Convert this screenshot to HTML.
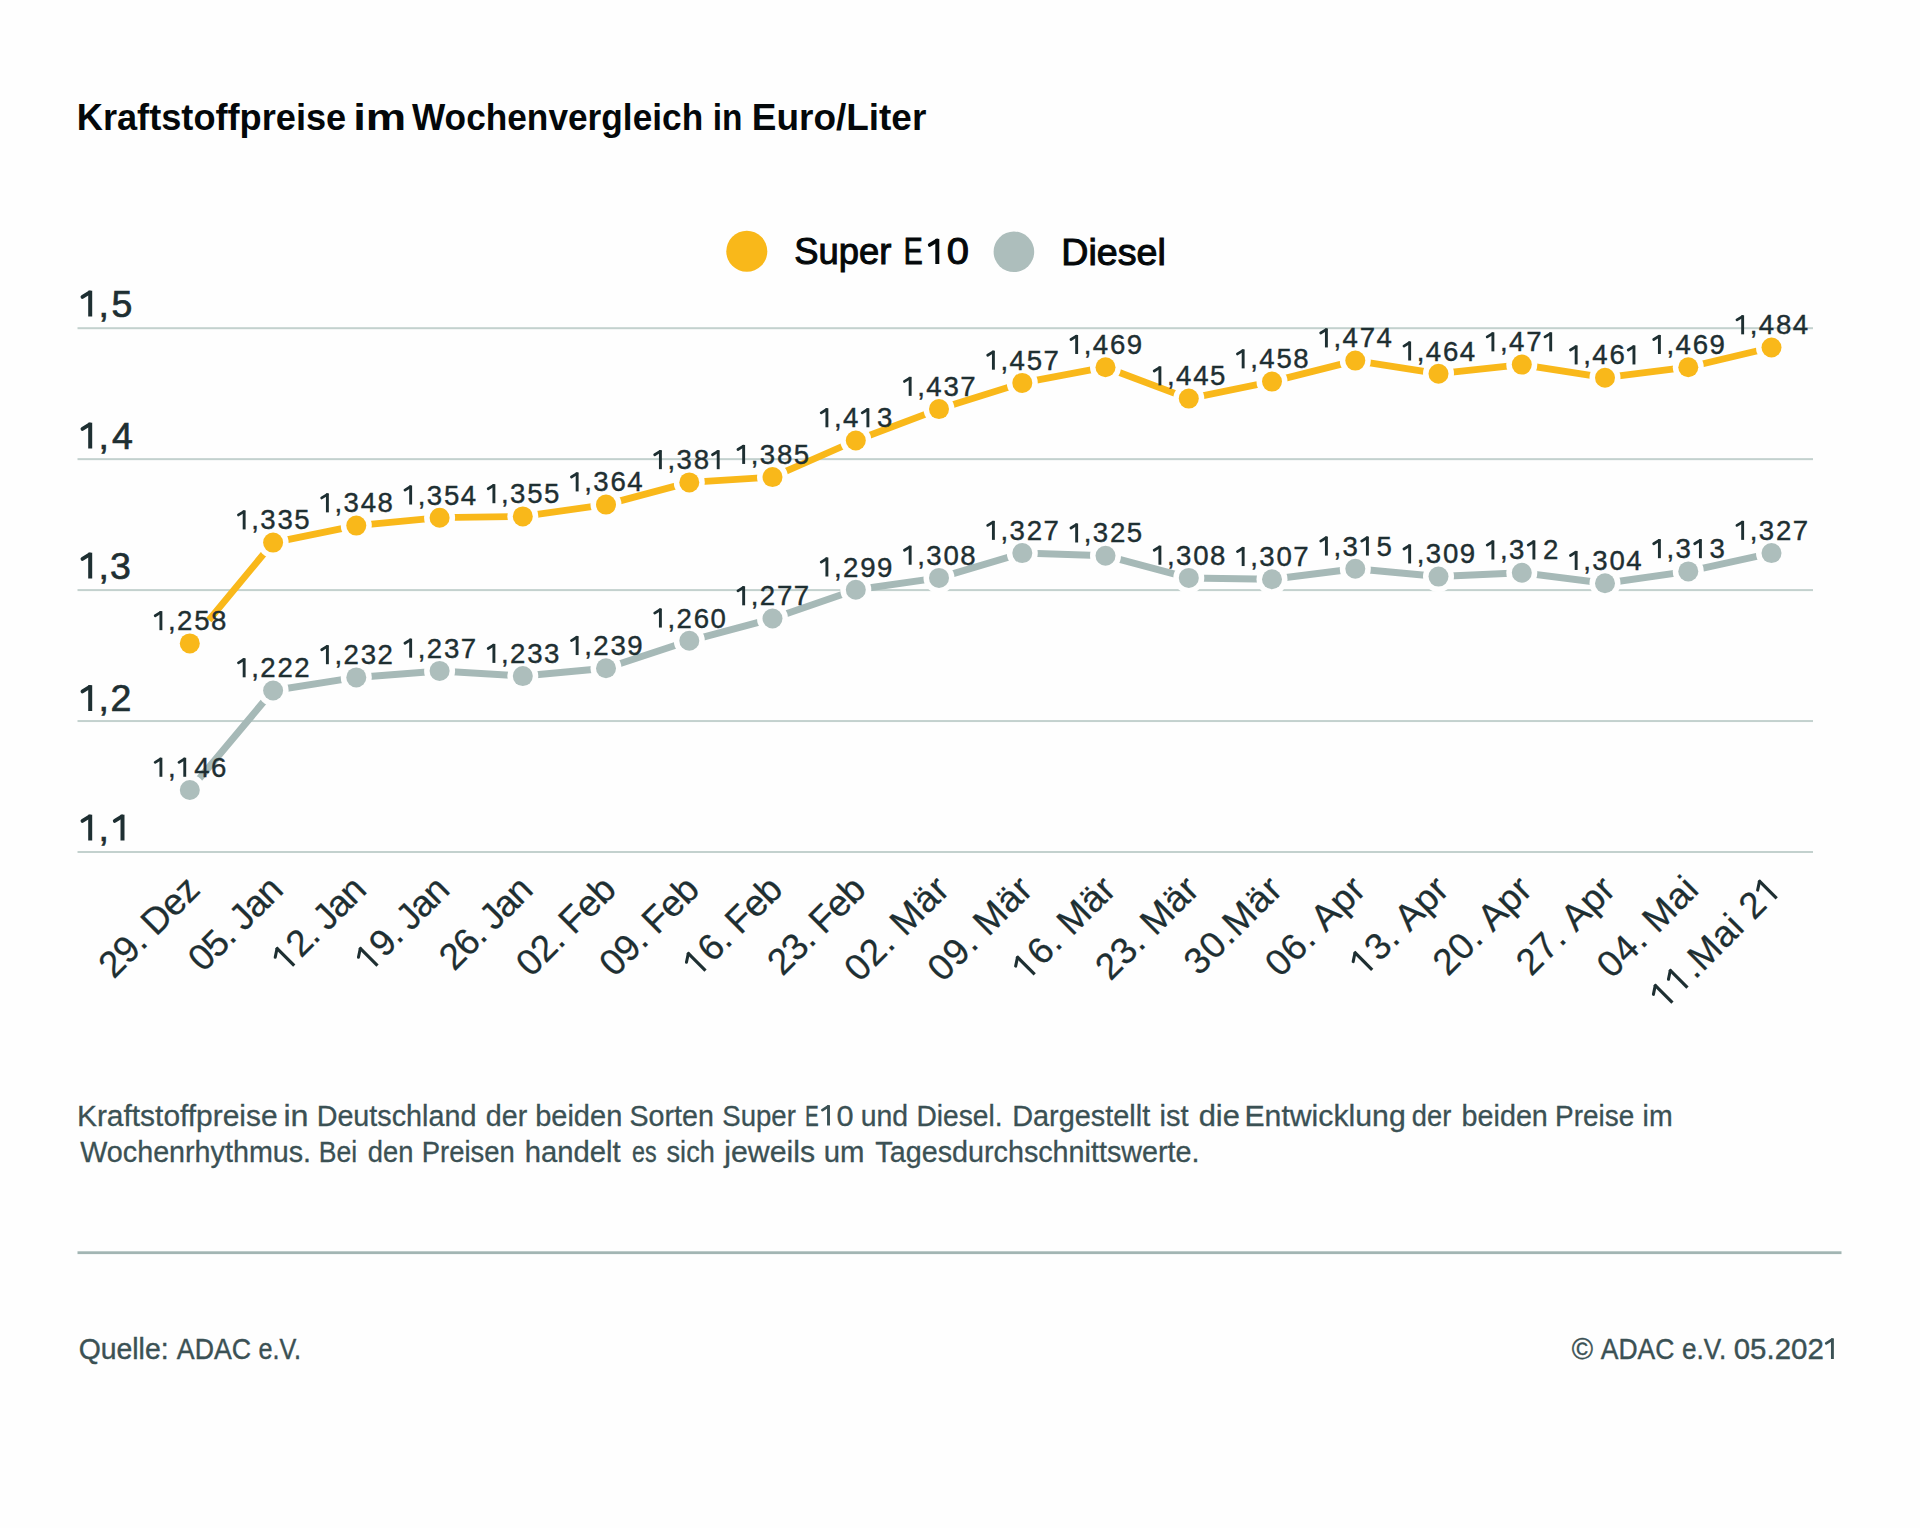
<!DOCTYPE html><html><head><meta charset="utf-8"><title>Kraftstoffpreise</title><style>
html,body{margin:0;padding:0;background:#fefefe;width:1920px;height:1528px;overflow:hidden}
svg{display:block}
text{font-family:"Liberation Sans", sans-serif}
</style></head><body>
<svg width="1920" height="1528" viewBox="0 0 1920 1528">
<rect width="1920" height="1528" fill="#fefefe"/>
<text x="76.78" y="129.50" font-size="37.5" font-weight="bold" fill="#04080a" textLength="269.46" lengthAdjust="spacingAndGlyphs">Kraftstoffpreise</text>
<text x="353.23" y="129.50" font-size="37.5" font-weight="bold" fill="#04080a" textLength="52.99" lengthAdjust="spacingAndGlyphs">im</text>
<text x="411.97" y="129.50" font-size="37.5" font-weight="bold" fill="#04080a" textLength="291.22" lengthAdjust="spacingAndGlyphs">Wochenvergleich</text>
<text x="712.67" y="129.50" font-size="37.5" font-weight="bold" fill="#04080a" textLength="29.71" lengthAdjust="spacingAndGlyphs">in</text>
<text x="751.83" y="129.50" font-size="37.5" font-weight="bold" fill="#04080a" textLength="174.43" lengthAdjust="spacingAndGlyphs">Euro/Liter</text>
<circle cx="746.8" cy="251.3" r="20.5" fill="#f9b81a"/>
<text x="794.35" y="264.00" font-size="36.5" fill="#04080a" stroke="#04080a" stroke-width="1.0" textLength="97.06" lengthAdjust="spacingAndGlyphs">Super</text>
<text x="903.67" y="264.00" font-size="36.5" fill="#04080a" stroke="#04080a" stroke-width="1.0" textLength="18.95" lengthAdjust="spacingAndGlyphs">E</text>
<path d="M929.77,244.91 L936.90,240.57" fill="none" stroke="#04080a" stroke-width="3.80" stroke-linecap="round"/>
<rect x="935.30" y="238.89" width="4.00" height="25.11" fill="#04080a"/>
<text x="946.84" y="264.00" font-size="36.5" fill="#04080a" stroke="#04080a" stroke-width="1.0" textLength="22.22" lengthAdjust="spacingAndGlyphs">0</text>
<circle cx="1013.9" cy="251.8" r="20.3" fill="#adbebc"/>
<text x="1061.32" y="264.50" font-size="36.5" fill="#04080a" stroke="#04080a" stroke-width="1.0" textLength="104.50" lengthAdjust="spacingAndGlyphs">Diesel</text>
<rect x="77.5" y="327.20" width="1735.5" height="2" fill="#c3d1ce"/>
<rect x="77.5" y="458.15" width="1735.5" height="2" fill="#c3d1ce"/>
<rect x="77.5" y="589.10" width="1735.5" height="2" fill="#c3d1ce"/>
<rect x="77.5" y="720.05" width="1735.5" height="2" fill="#c3d1ce"/>
<rect x="77.5" y="851.00" width="1735.5" height="2" fill="#c3d1ce"/>
<path d="M82.46,296.89 L89.80,292.38" fill="none" stroke="#1e2f32" stroke-width="3.80" stroke-linecap="round"/>
<rect x="88.20" y="290.70" width="4.00" height="25.80" fill="#1e2f32"/>
<text x="103.8" y="316.5" font-size="37.5" fill="#1e2f32" stroke="#1e2f32" stroke-width="0.7" text-anchor="middle">,</text>
<text x="121.9" y="316.5" font-size="37.5" fill="#1e2f32" stroke="#1e2f32" stroke-width="0.7" text-anchor="middle">5</text>
<path d="M82.46,428.89 L89.80,424.38" fill="none" stroke="#1e2f32" stroke-width="3.80" stroke-linecap="round"/>
<rect x="88.20" y="422.70" width="4.00" height="25.80" fill="#1e2f32"/>
<text x="103.8" y="448.5" font-size="37.5" fill="#1e2f32" stroke="#1e2f32" stroke-width="0.7" text-anchor="middle">,</text>
<text x="122.5" y="448.5" font-size="37.5" fill="#1e2f32" stroke="#1e2f32" stroke-width="0.7" text-anchor="middle">4</text>
<path d="M82.46,558.89 L89.80,554.38" fill="none" stroke="#1e2f32" stroke-width="3.80" stroke-linecap="round"/>
<rect x="88.20" y="552.70" width="4.00" height="25.80" fill="#1e2f32"/>
<text x="103.8" y="578.5" font-size="37.5" fill="#1e2f32" stroke="#1e2f32" stroke-width="0.7" text-anchor="middle">,</text>
<text x="120.5" y="578.5" font-size="37.5" fill="#1e2f32" stroke="#1e2f32" stroke-width="0.7" text-anchor="middle">3</text>
<path d="M82.46,691.39 L89.80,686.88" fill="none" stroke="#1e2f32" stroke-width="3.80" stroke-linecap="round"/>
<rect x="88.20" y="685.20" width="4.00" height="25.80" fill="#1e2f32"/>
<text x="103.8" y="711.0" font-size="37.5" fill="#1e2f32" stroke="#1e2f32" stroke-width="0.7" text-anchor="middle">,</text>
<text x="121.0" y="711.0" font-size="37.5" fill="#1e2f32" stroke="#1e2f32" stroke-width="0.7" text-anchor="middle">2</text>
<path d="M82.46,820.89 L89.80,816.38" fill="none" stroke="#1e2f32" stroke-width="3.80" stroke-linecap="round"/>
<rect x="88.20" y="814.70" width="4.00" height="25.80" fill="#1e2f32"/>
<text x="103.8" y="840.5" font-size="37.5" fill="#1e2f32" stroke="#1e2f32" stroke-width="0.7" text-anchor="middle">,</text>
<path d="M114.76,820.89 L122.10,816.38" fill="none" stroke="#1e2f32" stroke-width="3.80" stroke-linecap="round"/>
<rect x="120.50" y="814.70" width="4.00" height="25.80" fill="#1e2f32"/>
<polyline points="189.8,790.0 273.1,690.5 356.3,677.4 439.6,670.9 522.8,676.1 606.0,668.2 689.3,640.8 772.5,618.5 855.8,589.7 939.0,577.9 1022.3,553.1 1105.5,555.7 1188.8,577.9 1272.0,579.2 1355.3,568.8 1438.5,576.6 1521.8,572.7 1605.0,583.2 1688.3,571.4 1771.5,553.1" fill="none" stroke="#a6b9b7" stroke-width="7" stroke-linejoin="round"/>
<polyline points="208.9,620.2 273.1,542.6 356.3,525.6 439.6,517.7 522.8,516.4 606.0,504.6 689.3,482.4 772.5,477.1 855.8,440.5 939.0,409.1 1022.3,382.9 1105.5,367.2 1188.8,398.6 1272.0,381.6 1355.3,360.6 1438.5,373.7 1521.8,364.6 1605.0,377.7 1688.3,367.2 1771.5,347.5" fill="none" stroke="#f9b81a" stroke-width="6.8" stroke-linejoin="round"/>
<circle cx="189.8" cy="790.0" r="15.5" fill="#fefefe"/>
<circle cx="189.8" cy="790.0" r="10" fill="#adbebc"/>
<circle cx="273.1" cy="690.5" r="15.5" fill="#fefefe"/>
<circle cx="273.1" cy="690.5" r="10" fill="#adbebc"/>
<circle cx="356.3" cy="677.4" r="15.5" fill="#fefefe"/>
<circle cx="356.3" cy="677.4" r="10" fill="#adbebc"/>
<circle cx="439.6" cy="670.9" r="15.5" fill="#fefefe"/>
<circle cx="439.6" cy="670.9" r="10" fill="#adbebc"/>
<circle cx="522.8" cy="676.1" r="15.5" fill="#fefefe"/>
<circle cx="522.8" cy="676.1" r="10" fill="#adbebc"/>
<circle cx="606.0" cy="668.2" r="15.5" fill="#fefefe"/>
<circle cx="606.0" cy="668.2" r="10" fill="#adbebc"/>
<circle cx="689.3" cy="640.8" r="15.5" fill="#fefefe"/>
<circle cx="689.3" cy="640.8" r="10" fill="#adbebc"/>
<circle cx="772.5" cy="618.5" r="15.5" fill="#fefefe"/>
<circle cx="772.5" cy="618.5" r="10" fill="#adbebc"/>
<circle cx="855.8" cy="589.7" r="15.5" fill="#fefefe"/>
<circle cx="855.8" cy="589.7" r="10" fill="#adbebc"/>
<circle cx="939.0" cy="577.9" r="15.5" fill="#fefefe"/>
<circle cx="939.0" cy="577.9" r="10" fill="#adbebc"/>
<circle cx="1022.3" cy="553.1" r="15.5" fill="#fefefe"/>
<circle cx="1022.3" cy="553.1" r="10" fill="#adbebc"/>
<circle cx="1105.5" cy="555.7" r="15.5" fill="#fefefe"/>
<circle cx="1105.5" cy="555.7" r="10" fill="#adbebc"/>
<circle cx="1188.8" cy="577.9" r="15.5" fill="#fefefe"/>
<circle cx="1188.8" cy="577.9" r="10" fill="#adbebc"/>
<circle cx="1272.0" cy="579.2" r="15.5" fill="#fefefe"/>
<circle cx="1272.0" cy="579.2" r="10" fill="#adbebc"/>
<circle cx="1355.3" cy="568.8" r="15.5" fill="#fefefe"/>
<circle cx="1355.3" cy="568.8" r="10" fill="#adbebc"/>
<circle cx="1438.5" cy="576.6" r="15.5" fill="#fefefe"/>
<circle cx="1438.5" cy="576.6" r="10" fill="#adbebc"/>
<circle cx="1521.8" cy="572.7" r="15.5" fill="#fefefe"/>
<circle cx="1521.8" cy="572.7" r="10" fill="#adbebc"/>
<circle cx="1605.0" cy="583.2" r="15.5" fill="#fefefe"/>
<circle cx="1605.0" cy="583.2" r="10" fill="#adbebc"/>
<circle cx="1688.3" cy="571.4" r="15.5" fill="#fefefe"/>
<circle cx="1688.3" cy="571.4" r="10" fill="#adbebc"/>
<circle cx="1771.5" cy="553.1" r="15.5" fill="#fefefe"/>
<circle cx="1771.5" cy="553.1" r="10" fill="#adbebc"/>
<circle cx="189.8" cy="643.4" r="15.5" fill="#fefefe"/>
<circle cx="189.8" cy="643.4" r="10" fill="#f9b81a"/>
<circle cx="273.1" cy="542.6" r="15.5" fill="#fefefe"/>
<circle cx="273.1" cy="542.6" r="10" fill="#f9b81a"/>
<circle cx="356.3" cy="525.6" r="15.5" fill="#fefefe"/>
<circle cx="356.3" cy="525.6" r="10" fill="#f9b81a"/>
<circle cx="439.6" cy="517.7" r="15.5" fill="#fefefe"/>
<circle cx="439.6" cy="517.7" r="10" fill="#f9b81a"/>
<circle cx="522.8" cy="516.4" r="15.5" fill="#fefefe"/>
<circle cx="522.8" cy="516.4" r="10" fill="#f9b81a"/>
<circle cx="606.0" cy="504.6" r="15.5" fill="#fefefe"/>
<circle cx="606.0" cy="504.6" r="10" fill="#f9b81a"/>
<circle cx="689.3" cy="482.4" r="15.5" fill="#fefefe"/>
<circle cx="689.3" cy="482.4" r="10" fill="#f9b81a"/>
<circle cx="772.5" cy="477.1" r="15.5" fill="#fefefe"/>
<circle cx="772.5" cy="477.1" r="10" fill="#f9b81a"/>
<circle cx="855.8" cy="440.5" r="15.5" fill="#fefefe"/>
<circle cx="855.8" cy="440.5" r="10" fill="#f9b81a"/>
<circle cx="939.0" cy="409.1" r="15.5" fill="#fefefe"/>
<circle cx="939.0" cy="409.1" r="10" fill="#f9b81a"/>
<circle cx="1022.3" cy="382.9" r="15.5" fill="#fefefe"/>
<circle cx="1022.3" cy="382.9" r="10" fill="#f9b81a"/>
<circle cx="1105.5" cy="367.2" r="15.5" fill="#fefefe"/>
<circle cx="1105.5" cy="367.2" r="10" fill="#f9b81a"/>
<circle cx="1188.8" cy="398.6" r="15.5" fill="#fefefe"/>
<circle cx="1188.8" cy="398.6" r="10" fill="#f9b81a"/>
<circle cx="1272.0" cy="381.6" r="15.5" fill="#fefefe"/>
<circle cx="1272.0" cy="381.6" r="10" fill="#f9b81a"/>
<circle cx="1355.3" cy="360.6" r="15.5" fill="#fefefe"/>
<circle cx="1355.3" cy="360.6" r="10" fill="#f9b81a"/>
<circle cx="1438.5" cy="373.7" r="15.5" fill="#fefefe"/>
<circle cx="1438.5" cy="373.7" r="10" fill="#f9b81a"/>
<circle cx="1521.8" cy="364.6" r="15.5" fill="#fefefe"/>
<circle cx="1521.8" cy="364.6" r="10" fill="#f9b81a"/>
<circle cx="1605.0" cy="377.7" r="15.5" fill="#fefefe"/>
<circle cx="1605.0" cy="377.7" r="10" fill="#f9b81a"/>
<circle cx="1688.3" cy="367.2" r="15.5" fill="#fefefe"/>
<circle cx="1688.3" cy="367.2" r="10" fill="#f9b81a"/>
<circle cx="1771.5" cy="347.5" r="15.5" fill="#fefefe"/>
<circle cx="1771.5" cy="347.5" r="10" fill="#f9b81a"/>
<path d="M155.20,615.74 L160.61,612.40" fill="none" stroke="#1e2f32" stroke-width="2.75" stroke-linecap="round"/>
<rect x="159.45" y="611.18" width="2.90" height="19.00" fill="#1e2f32"/>
<text x="171.80" y="630.18" font-size="27.6" fill="#1e2f32" stroke="#1e2f32" stroke-width="0.4" text-anchor="middle">,</text>
<text x="184.75" y="630.18" font-size="27.6" fill="#1e2f32" stroke="#1e2f32" stroke-width="0.4" text-anchor="middle">2</text>
<text x="201.90" y="630.18" font-size="27.6" fill="#1e2f32" stroke="#1e2f32" stroke-width="0.4" text-anchor="middle">5</text>
<text x="218.70" y="630.18" font-size="27.6" fill="#1e2f32" stroke="#1e2f32" stroke-width="0.4" text-anchor="middle">8</text>
<path d="M238.45,514.95 L243.86,511.60" fill="none" stroke="#1e2f32" stroke-width="2.75" stroke-linecap="round"/>
<rect x="242.70" y="510.39" width="2.90" height="19.00" fill="#1e2f32"/>
<text x="255.05" y="529.39" font-size="27.6" fill="#1e2f32" stroke="#1e2f32" stroke-width="0.4" text-anchor="middle">,</text>
<text x="268.00" y="529.39" font-size="27.6" fill="#1e2f32" stroke="#1e2f32" stroke-width="0.4" text-anchor="middle">3</text>
<text x="285.15" y="529.39" font-size="27.6" fill="#1e2f32" stroke="#1e2f32" stroke-width="0.4" text-anchor="middle">3</text>
<text x="301.95" y="529.39" font-size="27.6" fill="#1e2f32" stroke="#1e2f32" stroke-width="0.4" text-anchor="middle">5</text>
<path d="M321.70,497.93 L327.11,494.59" fill="none" stroke="#1e2f32" stroke-width="2.75" stroke-linecap="round"/>
<rect x="325.95" y="493.37" width="2.90" height="19.00" fill="#1e2f32"/>
<text x="338.30" y="512.37" font-size="27.6" fill="#1e2f32" stroke="#1e2f32" stroke-width="0.4" text-anchor="middle">,</text>
<text x="351.25" y="512.37" font-size="27.6" fill="#1e2f32" stroke="#1e2f32" stroke-width="0.4" text-anchor="middle">3</text>
<text x="368.40" y="512.37" font-size="27.6" fill="#1e2f32" stroke="#1e2f32" stroke-width="0.4" text-anchor="middle">4</text>
<text x="385.20" y="512.37" font-size="27.6" fill="#1e2f32" stroke="#1e2f32" stroke-width="0.4" text-anchor="middle">8</text>
<path d="M404.95,490.07 L410.36,486.73" fill="none" stroke="#1e2f32" stroke-width="2.75" stroke-linecap="round"/>
<rect x="409.20" y="485.51" width="2.90" height="19.00" fill="#1e2f32"/>
<text x="421.55" y="504.51" font-size="27.6" fill="#1e2f32" stroke="#1e2f32" stroke-width="0.4" text-anchor="middle">,</text>
<text x="434.50" y="504.51" font-size="27.6" fill="#1e2f32" stroke="#1e2f32" stroke-width="0.4" text-anchor="middle">3</text>
<text x="451.65" y="504.51" font-size="27.6" fill="#1e2f32" stroke="#1e2f32" stroke-width="0.4" text-anchor="middle">5</text>
<text x="468.45" y="504.51" font-size="27.6" fill="#1e2f32" stroke="#1e2f32" stroke-width="0.4" text-anchor="middle">4</text>
<path d="M488.20,488.77 L493.61,485.42" fill="none" stroke="#1e2f32" stroke-width="2.75" stroke-linecap="round"/>
<rect x="492.45" y="484.21" width="2.90" height="19.00" fill="#1e2f32"/>
<text x="504.80" y="503.21" font-size="27.6" fill="#1e2f32" stroke="#1e2f32" stroke-width="0.4" text-anchor="middle">,</text>
<text x="517.75" y="503.21" font-size="27.6" fill="#1e2f32" stroke="#1e2f32" stroke-width="0.4" text-anchor="middle">3</text>
<text x="534.90" y="503.21" font-size="27.6" fill="#1e2f32" stroke="#1e2f32" stroke-width="0.4" text-anchor="middle">5</text>
<text x="551.70" y="503.21" font-size="27.6" fill="#1e2f32" stroke="#1e2f32" stroke-width="0.4" text-anchor="middle">5</text>
<path d="M571.45,476.98 L576.86,473.64" fill="none" stroke="#1e2f32" stroke-width="2.75" stroke-linecap="round"/>
<rect x="575.70" y="472.42" width="2.90" height="19.00" fill="#1e2f32"/>
<text x="588.05" y="491.42" font-size="27.6" fill="#1e2f32" stroke="#1e2f32" stroke-width="0.4" text-anchor="middle">,</text>
<text x="601.00" y="491.42" font-size="27.6" fill="#1e2f32" stroke="#1e2f32" stroke-width="0.4" text-anchor="middle">3</text>
<text x="618.15" y="491.42" font-size="27.6" fill="#1e2f32" stroke="#1e2f32" stroke-width="0.4" text-anchor="middle">6</text>
<text x="634.95" y="491.42" font-size="27.6" fill="#1e2f32" stroke="#1e2f32" stroke-width="0.4" text-anchor="middle">4</text>
<path d="M654.70,454.73 L660.11,451.39" fill="none" stroke="#1e2f32" stroke-width="2.75" stroke-linecap="round"/>
<rect x="658.95" y="450.17" width="2.90" height="19.00" fill="#1e2f32"/>
<text x="671.30" y="469.17" font-size="27.6" fill="#1e2f32" stroke="#1e2f32" stroke-width="0.4" text-anchor="middle">,</text>
<text x="684.25" y="469.17" font-size="27.6" fill="#1e2f32" stroke="#1e2f32" stroke-width="0.4" text-anchor="middle">3</text>
<text x="701.40" y="469.17" font-size="27.6" fill="#1e2f32" stroke="#1e2f32" stroke-width="0.4" text-anchor="middle">8</text>
<path d="M712.50,454.73 L717.91,451.39" fill="none" stroke="#1e2f32" stroke-width="2.75" stroke-linecap="round"/>
<rect x="716.75" y="450.17" width="2.90" height="19.00" fill="#1e2f32"/>
<path d="M737.95,449.50 L743.36,446.15" fill="none" stroke="#1e2f32" stroke-width="2.75" stroke-linecap="round"/>
<rect x="742.20" y="444.94" width="2.90" height="19.00" fill="#1e2f32"/>
<text x="754.55" y="463.94" font-size="27.6" fill="#1e2f32" stroke="#1e2f32" stroke-width="0.4" text-anchor="middle">,</text>
<text x="767.50" y="463.94" font-size="27.6" fill="#1e2f32" stroke="#1e2f32" stroke-width="0.4" text-anchor="middle">3</text>
<text x="784.65" y="463.94" font-size="27.6" fill="#1e2f32" stroke="#1e2f32" stroke-width="0.4" text-anchor="middle">8</text>
<text x="801.45" y="463.94" font-size="27.6" fill="#1e2f32" stroke="#1e2f32" stroke-width="0.4" text-anchor="middle">5</text>
<path d="M821.20,412.84 L826.61,409.50" fill="none" stroke="#1e2f32" stroke-width="2.75" stroke-linecap="round"/>
<rect x="825.45" y="408.28" width="2.90" height="19.00" fill="#1e2f32"/>
<text x="837.80" y="427.28" font-size="27.6" fill="#1e2f32" stroke="#1e2f32" stroke-width="0.4" text-anchor="middle">,</text>
<text x="850.75" y="427.28" font-size="27.6" fill="#1e2f32" stroke="#1e2f32" stroke-width="0.4" text-anchor="middle">4</text>
<path d="M862.20,412.84 L867.61,409.50" fill="none" stroke="#1e2f32" stroke-width="2.75" stroke-linecap="round"/>
<rect x="866.45" y="408.28" width="2.90" height="19.00" fill="#1e2f32"/>
<text x="884.70" y="427.28" font-size="27.6" fill="#1e2f32" stroke="#1e2f32" stroke-width="0.4" text-anchor="middle">3</text>
<path d="M904.45,381.43 L909.86,378.09" fill="none" stroke="#1e2f32" stroke-width="2.75" stroke-linecap="round"/>
<rect x="908.70" y="376.87" width="2.90" height="19.00" fill="#1e2f32"/>
<text x="921.05" y="395.87" font-size="27.6" fill="#1e2f32" stroke="#1e2f32" stroke-width="0.4" text-anchor="middle">,</text>
<text x="934.00" y="395.87" font-size="27.6" fill="#1e2f32" stroke="#1e2f32" stroke-width="0.4" text-anchor="middle">4</text>
<text x="951.15" y="395.87" font-size="27.6" fill="#1e2f32" stroke="#1e2f32" stroke-width="0.4" text-anchor="middle">3</text>
<text x="967.95" y="395.87" font-size="27.6" fill="#1e2f32" stroke="#1e2f32" stroke-width="0.4" text-anchor="middle">7</text>
<path d="M987.70,355.25 L993.11,351.91" fill="none" stroke="#1e2f32" stroke-width="2.75" stroke-linecap="round"/>
<rect x="991.95" y="350.69" width="2.90" height="19.00" fill="#1e2f32"/>
<text x="1004.30" y="369.69" font-size="27.6" fill="#1e2f32" stroke="#1e2f32" stroke-width="0.4" text-anchor="middle">,</text>
<text x="1017.25" y="369.69" font-size="27.6" fill="#1e2f32" stroke="#1e2f32" stroke-width="0.4" text-anchor="middle">4</text>
<text x="1034.40" y="369.69" font-size="27.6" fill="#1e2f32" stroke="#1e2f32" stroke-width="0.4" text-anchor="middle">5</text>
<text x="1051.20" y="369.69" font-size="27.6" fill="#1e2f32" stroke="#1e2f32" stroke-width="0.4" text-anchor="middle">7</text>
<path d="M1070.95,339.54 L1076.36,336.20" fill="none" stroke="#1e2f32" stroke-width="2.75" stroke-linecap="round"/>
<rect x="1075.20" y="334.98" width="2.90" height="19.00" fill="#1e2f32"/>
<text x="1087.55" y="353.98" font-size="27.6" fill="#1e2f32" stroke="#1e2f32" stroke-width="0.4" text-anchor="middle">,</text>
<text x="1100.50" y="353.98" font-size="27.6" fill="#1e2f32" stroke="#1e2f32" stroke-width="0.4" text-anchor="middle">4</text>
<text x="1117.65" y="353.98" font-size="27.6" fill="#1e2f32" stroke="#1e2f32" stroke-width="0.4" text-anchor="middle">6</text>
<text x="1134.45" y="353.98" font-size="27.6" fill="#1e2f32" stroke="#1e2f32" stroke-width="0.4" text-anchor="middle">9</text>
<path d="M1154.20,370.96 L1159.61,367.61" fill="none" stroke="#1e2f32" stroke-width="2.75" stroke-linecap="round"/>
<rect x="1158.45" y="366.40" width="2.90" height="19.00" fill="#1e2f32"/>
<text x="1170.80" y="385.40" font-size="27.6" fill="#1e2f32" stroke="#1e2f32" stroke-width="0.4" text-anchor="middle">,</text>
<text x="1183.75" y="385.40" font-size="27.6" fill="#1e2f32" stroke="#1e2f32" stroke-width="0.4" text-anchor="middle">4</text>
<text x="1200.90" y="385.40" font-size="27.6" fill="#1e2f32" stroke="#1e2f32" stroke-width="0.4" text-anchor="middle">4</text>
<text x="1217.70" y="385.40" font-size="27.6" fill="#1e2f32" stroke="#1e2f32" stroke-width="0.4" text-anchor="middle">5</text>
<path d="M1237.45,353.94 L1242.86,350.60" fill="none" stroke="#1e2f32" stroke-width="2.75" stroke-linecap="round"/>
<rect x="1241.70" y="349.38" width="2.90" height="19.00" fill="#1e2f32"/>
<text x="1254.05" y="368.38" font-size="27.6" fill="#1e2f32" stroke="#1e2f32" stroke-width="0.4" text-anchor="middle">,</text>
<text x="1267.00" y="368.38" font-size="27.6" fill="#1e2f32" stroke="#1e2f32" stroke-width="0.4" text-anchor="middle">4</text>
<text x="1284.15" y="368.38" font-size="27.6" fill="#1e2f32" stroke="#1e2f32" stroke-width="0.4" text-anchor="middle">5</text>
<text x="1300.95" y="368.38" font-size="27.6" fill="#1e2f32" stroke="#1e2f32" stroke-width="0.4" text-anchor="middle">8</text>
<path d="M1320.70,332.99 L1326.11,329.65" fill="none" stroke="#1e2f32" stroke-width="2.75" stroke-linecap="round"/>
<rect x="1324.95" y="328.43" width="2.90" height="19.00" fill="#1e2f32"/>
<text x="1337.30" y="347.43" font-size="27.6" fill="#1e2f32" stroke="#1e2f32" stroke-width="0.4" text-anchor="middle">,</text>
<text x="1350.25" y="347.43" font-size="27.6" fill="#1e2f32" stroke="#1e2f32" stroke-width="0.4" text-anchor="middle">4</text>
<text x="1367.40" y="347.43" font-size="27.6" fill="#1e2f32" stroke="#1e2f32" stroke-width="0.4" text-anchor="middle">7</text>
<text x="1384.20" y="347.43" font-size="27.6" fill="#1e2f32" stroke="#1e2f32" stroke-width="0.4" text-anchor="middle">4</text>
<path d="M1403.95,346.08 L1409.36,342.74" fill="none" stroke="#1e2f32" stroke-width="2.75" stroke-linecap="round"/>
<rect x="1408.20" y="341.52" width="2.90" height="19.00" fill="#1e2f32"/>
<text x="1420.55" y="360.52" font-size="27.6" fill="#1e2f32" stroke="#1e2f32" stroke-width="0.4" text-anchor="middle">,</text>
<text x="1433.50" y="360.52" font-size="27.6" fill="#1e2f32" stroke="#1e2f32" stroke-width="0.4" text-anchor="middle">4</text>
<text x="1450.65" y="360.52" font-size="27.6" fill="#1e2f32" stroke="#1e2f32" stroke-width="0.4" text-anchor="middle">6</text>
<text x="1467.45" y="360.52" font-size="27.6" fill="#1e2f32" stroke="#1e2f32" stroke-width="0.4" text-anchor="middle">4</text>
<path d="M1487.20,336.92 L1492.61,333.58" fill="none" stroke="#1e2f32" stroke-width="2.75" stroke-linecap="round"/>
<rect x="1491.45" y="332.36" width="2.90" height="19.00" fill="#1e2f32"/>
<text x="1503.80" y="351.36" font-size="27.6" fill="#1e2f32" stroke="#1e2f32" stroke-width="0.4" text-anchor="middle">,</text>
<text x="1516.75" y="351.36" font-size="27.6" fill="#1e2f32" stroke="#1e2f32" stroke-width="0.4" text-anchor="middle">4</text>
<text x="1533.90" y="351.36" font-size="27.6" fill="#1e2f32" stroke="#1e2f32" stroke-width="0.4" text-anchor="middle">7</text>
<path d="M1545.00,336.92 L1550.41,333.58" fill="none" stroke="#1e2f32" stroke-width="2.75" stroke-linecap="round"/>
<rect x="1549.25" y="332.36" width="2.90" height="19.00" fill="#1e2f32"/>
<path d="M1570.45,350.01 L1575.86,346.67" fill="none" stroke="#1e2f32" stroke-width="2.75" stroke-linecap="round"/>
<rect x="1574.70" y="345.45" width="2.90" height="19.00" fill="#1e2f32"/>
<text x="1587.05" y="364.45" font-size="27.6" fill="#1e2f32" stroke="#1e2f32" stroke-width="0.4" text-anchor="middle">,</text>
<text x="1600.00" y="364.45" font-size="27.6" fill="#1e2f32" stroke="#1e2f32" stroke-width="0.4" text-anchor="middle">4</text>
<text x="1617.15" y="364.45" font-size="27.6" fill="#1e2f32" stroke="#1e2f32" stroke-width="0.4" text-anchor="middle">6</text>
<path d="M1628.25,350.01 L1633.66,346.67" fill="none" stroke="#1e2f32" stroke-width="2.75" stroke-linecap="round"/>
<rect x="1632.50" y="345.45" width="2.90" height="19.00" fill="#1e2f32"/>
<path d="M1653.70,339.54 L1659.11,336.20" fill="none" stroke="#1e2f32" stroke-width="2.75" stroke-linecap="round"/>
<rect x="1657.95" y="334.98" width="2.90" height="19.00" fill="#1e2f32"/>
<text x="1670.30" y="353.98" font-size="27.6" fill="#1e2f32" stroke="#1e2f32" stroke-width="0.4" text-anchor="middle">,</text>
<text x="1683.25" y="353.98" font-size="27.6" fill="#1e2f32" stroke="#1e2f32" stroke-width="0.4" text-anchor="middle">4</text>
<text x="1700.40" y="353.98" font-size="27.6" fill="#1e2f32" stroke="#1e2f32" stroke-width="0.4" text-anchor="middle">6</text>
<text x="1717.20" y="353.98" font-size="27.6" fill="#1e2f32" stroke="#1e2f32" stroke-width="0.4" text-anchor="middle">9</text>
<path d="M1736.95,319.90 L1742.36,316.56" fill="none" stroke="#1e2f32" stroke-width="2.75" stroke-linecap="round"/>
<rect x="1741.20" y="315.34" width="2.90" height="19.00" fill="#1e2f32"/>
<text x="1753.55" y="334.34" font-size="27.6" fill="#1e2f32" stroke="#1e2f32" stroke-width="0.4" text-anchor="middle">,</text>
<text x="1766.50" y="334.34" font-size="27.6" fill="#1e2f32" stroke="#1e2f32" stroke-width="0.4" text-anchor="middle">4</text>
<text x="1783.65" y="334.34" font-size="27.6" fill="#1e2f32" stroke="#1e2f32" stroke-width="0.4" text-anchor="middle">8</text>
<text x="1800.45" y="334.34" font-size="27.6" fill="#1e2f32" stroke="#1e2f32" stroke-width="0.4" text-anchor="middle">4</text>
<path d="M155.20,762.35 L160.61,759.00" fill="none" stroke="#1e2f32" stroke-width="2.75" stroke-linecap="round"/>
<rect x="159.45" y="757.79" width="2.90" height="19.00" fill="#1e2f32"/>
<text x="171.80" y="776.79" font-size="27.6" fill="#1e2f32" stroke="#1e2f32" stroke-width="0.4" text-anchor="middle">,</text>
<path d="M179.05,762.35 L184.46,759.00" fill="none" stroke="#1e2f32" stroke-width="2.75" stroke-linecap="round"/>
<rect x="183.30" y="757.79" width="2.90" height="19.00" fill="#1e2f32"/>
<text x="201.90" y="776.79" font-size="27.6" fill="#1e2f32" stroke="#1e2f32" stroke-width="0.4" text-anchor="middle">4</text>
<text x="218.70" y="776.79" font-size="27.6" fill="#1e2f32" stroke="#1e2f32" stroke-width="0.4" text-anchor="middle">6</text>
<path d="M238.45,662.86 L243.86,659.52" fill="none" stroke="#1e2f32" stroke-width="2.75" stroke-linecap="round"/>
<rect x="242.70" y="658.30" width="2.90" height="19.00" fill="#1e2f32"/>
<text x="255.05" y="677.30" font-size="27.6" fill="#1e2f32" stroke="#1e2f32" stroke-width="0.4" text-anchor="middle">,</text>
<text x="268.00" y="677.30" font-size="27.6" fill="#1e2f32" stroke="#1e2f32" stroke-width="0.4" text-anchor="middle">2</text>
<text x="285.15" y="677.30" font-size="27.6" fill="#1e2f32" stroke="#1e2f32" stroke-width="0.4" text-anchor="middle">2</text>
<text x="301.95" y="677.30" font-size="27.6" fill="#1e2f32" stroke="#1e2f32" stroke-width="0.4" text-anchor="middle">2</text>
<path d="M321.70,649.77 L327.11,646.43" fill="none" stroke="#1e2f32" stroke-width="2.75" stroke-linecap="round"/>
<rect x="325.95" y="645.21" width="2.90" height="19.00" fill="#1e2f32"/>
<text x="338.30" y="664.21" font-size="27.6" fill="#1e2f32" stroke="#1e2f32" stroke-width="0.4" text-anchor="middle">,</text>
<text x="351.25" y="664.21" font-size="27.6" fill="#1e2f32" stroke="#1e2f32" stroke-width="0.4" text-anchor="middle">2</text>
<text x="368.40" y="664.21" font-size="27.6" fill="#1e2f32" stroke="#1e2f32" stroke-width="0.4" text-anchor="middle">3</text>
<text x="385.20" y="664.21" font-size="27.6" fill="#1e2f32" stroke="#1e2f32" stroke-width="0.4" text-anchor="middle">2</text>
<path d="M404.95,643.23 L410.36,639.88" fill="none" stroke="#1e2f32" stroke-width="2.75" stroke-linecap="round"/>
<rect x="409.20" y="638.67" width="2.90" height="19.00" fill="#1e2f32"/>
<text x="421.55" y="657.67" font-size="27.6" fill="#1e2f32" stroke="#1e2f32" stroke-width="0.4" text-anchor="middle">,</text>
<text x="434.50" y="657.67" font-size="27.6" fill="#1e2f32" stroke="#1e2f32" stroke-width="0.4" text-anchor="middle">2</text>
<text x="451.65" y="657.67" font-size="27.6" fill="#1e2f32" stroke="#1e2f32" stroke-width="0.4" text-anchor="middle">3</text>
<text x="468.45" y="657.67" font-size="27.6" fill="#1e2f32" stroke="#1e2f32" stroke-width="0.4" text-anchor="middle">7</text>
<path d="M488.20,648.46 L493.61,645.12" fill="none" stroke="#1e2f32" stroke-width="2.75" stroke-linecap="round"/>
<rect x="492.45" y="643.90" width="2.90" height="19.00" fill="#1e2f32"/>
<text x="504.80" y="662.90" font-size="27.6" fill="#1e2f32" stroke="#1e2f32" stroke-width="0.4" text-anchor="middle">,</text>
<text x="517.75" y="662.90" font-size="27.6" fill="#1e2f32" stroke="#1e2f32" stroke-width="0.4" text-anchor="middle">2</text>
<text x="534.90" y="662.90" font-size="27.6" fill="#1e2f32" stroke="#1e2f32" stroke-width="0.4" text-anchor="middle">3</text>
<text x="551.70" y="662.90" font-size="27.6" fill="#1e2f32" stroke="#1e2f32" stroke-width="0.4" text-anchor="middle">3</text>
<path d="M571.45,640.61 L576.86,637.27" fill="none" stroke="#1e2f32" stroke-width="2.75" stroke-linecap="round"/>
<rect x="575.70" y="636.05" width="2.90" height="19.00" fill="#1e2f32"/>
<text x="588.05" y="655.05" font-size="27.6" fill="#1e2f32" stroke="#1e2f32" stroke-width="0.4" text-anchor="middle">,</text>
<text x="601.00" y="655.05" font-size="27.6" fill="#1e2f32" stroke="#1e2f32" stroke-width="0.4" text-anchor="middle">2</text>
<text x="618.15" y="655.05" font-size="27.6" fill="#1e2f32" stroke="#1e2f32" stroke-width="0.4" text-anchor="middle">3</text>
<text x="634.95" y="655.05" font-size="27.6" fill="#1e2f32" stroke="#1e2f32" stroke-width="0.4" text-anchor="middle">9</text>
<path d="M654.70,613.12 L660.11,609.78" fill="none" stroke="#1e2f32" stroke-width="2.75" stroke-linecap="round"/>
<rect x="658.95" y="608.56" width="2.90" height="19.00" fill="#1e2f32"/>
<text x="671.30" y="627.56" font-size="27.6" fill="#1e2f32" stroke="#1e2f32" stroke-width="0.4" text-anchor="middle">,</text>
<text x="684.25" y="627.56" font-size="27.6" fill="#1e2f32" stroke="#1e2f32" stroke-width="0.4" text-anchor="middle">2</text>
<text x="701.40" y="627.56" font-size="27.6" fill="#1e2f32" stroke="#1e2f32" stroke-width="0.4" text-anchor="middle">6</text>
<text x="718.20" y="627.56" font-size="27.6" fill="#1e2f32" stroke="#1e2f32" stroke-width="0.4" text-anchor="middle">0</text>
<path d="M737.95,590.87 L743.36,587.53" fill="none" stroke="#1e2f32" stroke-width="2.75" stroke-linecap="round"/>
<rect x="742.20" y="586.31" width="2.90" height="19.00" fill="#1e2f32"/>
<text x="754.55" y="605.31" font-size="27.6" fill="#1e2f32" stroke="#1e2f32" stroke-width="0.4" text-anchor="middle">,</text>
<text x="767.50" y="605.31" font-size="27.6" fill="#1e2f32" stroke="#1e2f32" stroke-width="0.4" text-anchor="middle">2</text>
<text x="784.65" y="605.31" font-size="27.6" fill="#1e2f32" stroke="#1e2f32" stroke-width="0.4" text-anchor="middle">7</text>
<text x="801.45" y="605.31" font-size="27.6" fill="#1e2f32" stroke="#1e2f32" stroke-width="0.4" text-anchor="middle">7</text>
<path d="M821.20,562.07 L826.61,558.73" fill="none" stroke="#1e2f32" stroke-width="2.75" stroke-linecap="round"/>
<rect x="825.45" y="557.51" width="2.90" height="19.00" fill="#1e2f32"/>
<text x="837.80" y="576.51" font-size="27.6" fill="#1e2f32" stroke="#1e2f32" stroke-width="0.4" text-anchor="middle">,</text>
<text x="850.75" y="576.51" font-size="27.6" fill="#1e2f32" stroke="#1e2f32" stroke-width="0.4" text-anchor="middle">2</text>
<text x="867.90" y="576.51" font-size="27.6" fill="#1e2f32" stroke="#1e2f32" stroke-width="0.4" text-anchor="middle">9</text>
<text x="884.70" y="576.51" font-size="27.6" fill="#1e2f32" stroke="#1e2f32" stroke-width="0.4" text-anchor="middle">9</text>
<path d="M904.45,550.29 L909.86,546.95" fill="none" stroke="#1e2f32" stroke-width="2.75" stroke-linecap="round"/>
<rect x="908.70" y="545.73" width="2.90" height="19.00" fill="#1e2f32"/>
<text x="921.05" y="564.73" font-size="27.6" fill="#1e2f32" stroke="#1e2f32" stroke-width="0.4" text-anchor="middle">,</text>
<text x="934.00" y="564.73" font-size="27.6" fill="#1e2f32" stroke="#1e2f32" stroke-width="0.4" text-anchor="middle">3</text>
<text x="951.15" y="564.73" font-size="27.6" fill="#1e2f32" stroke="#1e2f32" stroke-width="0.4" text-anchor="middle">0</text>
<text x="967.95" y="564.73" font-size="27.6" fill="#1e2f32" stroke="#1e2f32" stroke-width="0.4" text-anchor="middle">8</text>
<path d="M987.70,525.42 L993.11,522.08" fill="none" stroke="#1e2f32" stroke-width="2.75" stroke-linecap="round"/>
<rect x="991.95" y="520.86" width="2.90" height="19.00" fill="#1e2f32"/>
<text x="1004.30" y="539.86" font-size="27.6" fill="#1e2f32" stroke="#1e2f32" stroke-width="0.4" text-anchor="middle">,</text>
<text x="1017.25" y="539.86" font-size="27.6" fill="#1e2f32" stroke="#1e2f32" stroke-width="0.4" text-anchor="middle">3</text>
<text x="1034.40" y="539.86" font-size="27.6" fill="#1e2f32" stroke="#1e2f32" stroke-width="0.4" text-anchor="middle">2</text>
<text x="1051.20" y="539.86" font-size="27.6" fill="#1e2f32" stroke="#1e2f32" stroke-width="0.4" text-anchor="middle">7</text>
<path d="M1070.95,528.04 L1076.36,524.69" fill="none" stroke="#1e2f32" stroke-width="2.75" stroke-linecap="round"/>
<rect x="1075.20" y="523.48" width="2.90" height="19.00" fill="#1e2f32"/>
<text x="1087.55" y="542.48" font-size="27.6" fill="#1e2f32" stroke="#1e2f32" stroke-width="0.4" text-anchor="middle">,</text>
<text x="1100.50" y="542.48" font-size="27.6" fill="#1e2f32" stroke="#1e2f32" stroke-width="0.4" text-anchor="middle">3</text>
<text x="1117.65" y="542.48" font-size="27.6" fill="#1e2f32" stroke="#1e2f32" stroke-width="0.4" text-anchor="middle">2</text>
<text x="1134.45" y="542.48" font-size="27.6" fill="#1e2f32" stroke="#1e2f32" stroke-width="0.4" text-anchor="middle">5</text>
<path d="M1154.20,550.29 L1159.61,546.95" fill="none" stroke="#1e2f32" stroke-width="2.75" stroke-linecap="round"/>
<rect x="1158.45" y="545.73" width="2.90" height="19.00" fill="#1e2f32"/>
<text x="1170.80" y="564.73" font-size="27.6" fill="#1e2f32" stroke="#1e2f32" stroke-width="0.4" text-anchor="middle">,</text>
<text x="1183.75" y="564.73" font-size="27.6" fill="#1e2f32" stroke="#1e2f32" stroke-width="0.4" text-anchor="middle">3</text>
<text x="1200.90" y="564.73" font-size="27.6" fill="#1e2f32" stroke="#1e2f32" stroke-width="0.4" text-anchor="middle">0</text>
<text x="1217.70" y="564.73" font-size="27.6" fill="#1e2f32" stroke="#1e2f32" stroke-width="0.4" text-anchor="middle">8</text>
<path d="M1237.45,551.60 L1242.86,548.26" fill="none" stroke="#1e2f32" stroke-width="2.75" stroke-linecap="round"/>
<rect x="1241.70" y="547.04" width="2.90" height="19.00" fill="#1e2f32"/>
<text x="1254.05" y="566.04" font-size="27.6" fill="#1e2f32" stroke="#1e2f32" stroke-width="0.4" text-anchor="middle">,</text>
<text x="1267.00" y="566.04" font-size="27.6" fill="#1e2f32" stroke="#1e2f32" stroke-width="0.4" text-anchor="middle">3</text>
<text x="1284.15" y="566.04" font-size="27.6" fill="#1e2f32" stroke="#1e2f32" stroke-width="0.4" text-anchor="middle">0</text>
<text x="1300.95" y="566.04" font-size="27.6" fill="#1e2f32" stroke="#1e2f32" stroke-width="0.4" text-anchor="middle">7</text>
<path d="M1320.70,541.13 L1326.11,537.78" fill="none" stroke="#1e2f32" stroke-width="2.75" stroke-linecap="round"/>
<rect x="1324.95" y="536.57" width="2.90" height="19.00" fill="#1e2f32"/>
<text x="1337.30" y="555.57" font-size="27.6" fill="#1e2f32" stroke="#1e2f32" stroke-width="0.4" text-anchor="middle">,</text>
<text x="1350.25" y="555.57" font-size="27.6" fill="#1e2f32" stroke="#1e2f32" stroke-width="0.4" text-anchor="middle">3</text>
<path d="M1361.70,541.13 L1367.11,537.78" fill="none" stroke="#1e2f32" stroke-width="2.75" stroke-linecap="round"/>
<rect x="1365.95" y="536.57" width="2.90" height="19.00" fill="#1e2f32"/>
<text x="1384.20" y="555.57" font-size="27.6" fill="#1e2f32" stroke="#1e2f32" stroke-width="0.4" text-anchor="middle">5</text>
<path d="M1403.95,548.98 L1409.36,545.64" fill="none" stroke="#1e2f32" stroke-width="2.75" stroke-linecap="round"/>
<rect x="1408.20" y="544.42" width="2.90" height="19.00" fill="#1e2f32"/>
<text x="1420.55" y="563.42" font-size="27.6" fill="#1e2f32" stroke="#1e2f32" stroke-width="0.4" text-anchor="middle">,</text>
<text x="1433.50" y="563.42" font-size="27.6" fill="#1e2f32" stroke="#1e2f32" stroke-width="0.4" text-anchor="middle">3</text>
<text x="1450.65" y="563.42" font-size="27.6" fill="#1e2f32" stroke="#1e2f32" stroke-width="0.4" text-anchor="middle">0</text>
<text x="1467.45" y="563.42" font-size="27.6" fill="#1e2f32" stroke="#1e2f32" stroke-width="0.4" text-anchor="middle">9</text>
<path d="M1487.20,545.05 L1492.61,541.71" fill="none" stroke="#1e2f32" stroke-width="2.75" stroke-linecap="round"/>
<rect x="1491.45" y="540.49" width="2.90" height="19.00" fill="#1e2f32"/>
<text x="1503.80" y="559.49" font-size="27.6" fill="#1e2f32" stroke="#1e2f32" stroke-width="0.4" text-anchor="middle">,</text>
<text x="1516.75" y="559.49" font-size="27.6" fill="#1e2f32" stroke="#1e2f32" stroke-width="0.4" text-anchor="middle">3</text>
<path d="M1528.20,545.05 L1533.61,541.71" fill="none" stroke="#1e2f32" stroke-width="2.75" stroke-linecap="round"/>
<rect x="1532.45" y="540.49" width="2.90" height="19.00" fill="#1e2f32"/>
<text x="1550.70" y="559.49" font-size="27.6" fill="#1e2f32" stroke="#1e2f32" stroke-width="0.4" text-anchor="middle">2</text>
<path d="M1570.45,555.52 L1575.86,552.18" fill="none" stroke="#1e2f32" stroke-width="2.75" stroke-linecap="round"/>
<rect x="1574.70" y="550.96" width="2.90" height="19.00" fill="#1e2f32"/>
<text x="1587.05" y="569.96" font-size="27.6" fill="#1e2f32" stroke="#1e2f32" stroke-width="0.4" text-anchor="middle">,</text>
<text x="1600.00" y="569.96" font-size="27.6" fill="#1e2f32" stroke="#1e2f32" stroke-width="0.4" text-anchor="middle">3</text>
<text x="1617.15" y="569.96" font-size="27.6" fill="#1e2f32" stroke="#1e2f32" stroke-width="0.4" text-anchor="middle">0</text>
<text x="1633.95" y="569.96" font-size="27.6" fill="#1e2f32" stroke="#1e2f32" stroke-width="0.4" text-anchor="middle">4</text>
<path d="M1653.70,543.74 L1659.11,540.40" fill="none" stroke="#1e2f32" stroke-width="2.75" stroke-linecap="round"/>
<rect x="1657.95" y="539.18" width="2.90" height="19.00" fill="#1e2f32"/>
<text x="1670.30" y="558.18" font-size="27.6" fill="#1e2f32" stroke="#1e2f32" stroke-width="0.4" text-anchor="middle">,</text>
<text x="1683.25" y="558.18" font-size="27.6" fill="#1e2f32" stroke="#1e2f32" stroke-width="0.4" text-anchor="middle">3</text>
<path d="M1694.70,543.74 L1700.11,540.40" fill="none" stroke="#1e2f32" stroke-width="2.75" stroke-linecap="round"/>
<rect x="1698.95" y="539.18" width="2.90" height="19.00" fill="#1e2f32"/>
<text x="1717.20" y="558.18" font-size="27.6" fill="#1e2f32" stroke="#1e2f32" stroke-width="0.4" text-anchor="middle">3</text>
<path d="M1736.95,525.42 L1742.36,522.08" fill="none" stroke="#1e2f32" stroke-width="2.75" stroke-linecap="round"/>
<rect x="1741.20" y="520.86" width="2.90" height="19.00" fill="#1e2f32"/>
<text x="1753.55" y="539.86" font-size="27.6" fill="#1e2f32" stroke="#1e2f32" stroke-width="0.4" text-anchor="middle">,</text>
<text x="1766.50" y="539.86" font-size="27.6" fill="#1e2f32" stroke="#1e2f32" stroke-width="0.4" text-anchor="middle">3</text>
<text x="1783.65" y="539.86" font-size="27.6" fill="#1e2f32" stroke="#1e2f32" stroke-width="0.4" text-anchor="middle">2</text>
<text x="1800.45" y="539.86" font-size="27.6" fill="#1e2f32" stroke="#1e2f32" stroke-width="0.4" text-anchor="middle">7</text>
<g transform="translate(202.30 891.00) rotate(-45)">
<text x="-125.35" y="0" font-size="37" fill="#1e2f32" stroke="#1e2f32" stroke-width="0.25">2</text>
<text x="-105.23" y="0" font-size="37" fill="#1e2f32" stroke="#1e2f32" stroke-width="0.25">9</text>
<text x="-85.12" y="0" font-size="37" fill="#1e2f32" stroke="#1e2f32" stroke-width="0.25">.</text>
<text x="-65.48" y="0" font-size="37" fill="#1e2f32" stroke="#1e2f32" stroke-width="0.25">D</text>
<text x="-39.22" y="0" font-size="37" fill="#1e2f32" stroke="#1e2f32" stroke-width="0.25">e</text>
<text x="-19.10" y="0" font-size="37" fill="#1e2f32" stroke="#1e2f32" stroke-width="0.25">z</text>
</g>
<g transform="translate(285.55 891.00) rotate(-45)">
<text x="-116.38" y="0" font-size="37" fill="#1e2f32" stroke="#1e2f32" stroke-width="0.25">0</text>
<text x="-96.73" y="0" font-size="37" fill="#1e2f32" stroke="#1e2f32" stroke-width="0.25">5</text>
<text x="-77.09" y="0" font-size="37" fill="#1e2f32" stroke="#1e2f32" stroke-width="0.25">.</text>
<text x="-58.39" y="0" font-size="37" fill="#1e2f32" stroke="#1e2f32" stroke-width="0.25">J</text>
<text x="-40.82" y="0" font-size="37" fill="#1e2f32" stroke="#1e2f32" stroke-width="0.25">a</text>
<text x="-21.18" y="0" font-size="37" fill="#1e2f32" stroke="#1e2f32" stroke-width="0.25">n</text>
</g>
<g transform="translate(368.80 891.00) rotate(-45)">
<path d="M-113.06,-19.30 L-105.76,-24.06" fill="none" stroke="#1e2f32" stroke-width="3.04" stroke-linecap="round"/>
<rect x="-107.04" y="-25.40" width="3.20" height="25.40" fill="#1e2f32"/>
<text x="-95.79" y="0" font-size="37" fill="#1e2f32" stroke="#1e2f32" stroke-width="0.25">2</text>
<text x="-76.33" y="0" font-size="37" fill="#1e2f32" stroke="#1e2f32" stroke-width="0.25">.</text>
<text x="-58.01" y="0" font-size="37" fill="#1e2f32" stroke="#1e2f32" stroke-width="0.25">J</text>
<text x="-40.63" y="0" font-size="37" fill="#1e2f32" stroke="#1e2f32" stroke-width="0.25">a</text>
<text x="-21.18" y="0" font-size="37" fill="#1e2f32" stroke="#1e2f32" stroke-width="0.25">n</text>
</g>
<g transform="translate(452.05 891.00) rotate(-45)">
<path d="M-113.06,-19.30 L-105.76,-24.06" fill="none" stroke="#1e2f32" stroke-width="3.04" stroke-linecap="round"/>
<rect x="-107.04" y="-25.40" width="3.20" height="25.40" fill="#1e2f32"/>
<text x="-95.79" y="0" font-size="37" fill="#1e2f32" stroke="#1e2f32" stroke-width="0.25">9</text>
<text x="-76.33" y="0" font-size="37" fill="#1e2f32" stroke="#1e2f32" stroke-width="0.25">.</text>
<text x="-58.01" y="0" font-size="37" fill="#1e2f32" stroke="#1e2f32" stroke-width="0.25">J</text>
<text x="-40.63" y="0" font-size="37" fill="#1e2f32" stroke="#1e2f32" stroke-width="0.25">a</text>
<text x="-21.18" y="0" font-size="37" fill="#1e2f32" stroke="#1e2f32" stroke-width="0.25">n</text>
</g>
<g transform="translate(535.30 891.00) rotate(-45)">
<text x="-114.54" y="0" font-size="37" fill="#1e2f32" stroke="#1e2f32" stroke-width="0.25">2</text>
<text x="-95.20" y="0" font-size="37" fill="#1e2f32" stroke="#1e2f32" stroke-width="0.25">6</text>
<text x="-75.86" y="0" font-size="37" fill="#1e2f32" stroke="#1e2f32" stroke-width="0.25">.</text>
<text x="-57.78" y="0" font-size="37" fill="#1e2f32" stroke="#1e2f32" stroke-width="0.25">J</text>
<text x="-40.52" y="0" font-size="37" fill="#1e2f32" stroke="#1e2f32" stroke-width="0.25">a</text>
<text x="-21.18" y="0" font-size="37" fill="#1e2f32" stroke="#1e2f32" stroke-width="0.25">n</text>
</g>
<g transform="translate(618.55 891.00) rotate(-45)">
<text x="-123.31" y="0" font-size="37" fill="#1e2f32" stroke="#1e2f32" stroke-width="0.25">0</text>
<text x="-103.19" y="0" font-size="37" fill="#1e2f32" stroke="#1e2f32" stroke-width="0.25">2</text>
<text x="-83.07" y="0" font-size="37" fill="#1e2f32" stroke="#1e2f32" stroke-width="0.25">.</text>
<text x="-63.44" y="0" font-size="37" fill="#1e2f32" stroke="#1e2f32" stroke-width="0.25">F</text>
<text x="-41.29" y="0" font-size="37" fill="#1e2f32" stroke="#1e2f32" stroke-width="0.25">e</text>
<text x="-21.18" y="0" font-size="37" fill="#1e2f32" stroke="#1e2f32" stroke-width="0.25">b</text>
</g>
<g transform="translate(701.80 891.00) rotate(-45)">
<text x="-123.31" y="0" font-size="37" fill="#1e2f32" stroke="#1e2f32" stroke-width="0.25">0</text>
<text x="-103.19" y="0" font-size="37" fill="#1e2f32" stroke="#1e2f32" stroke-width="0.25">9</text>
<text x="-83.07" y="0" font-size="37" fill="#1e2f32" stroke="#1e2f32" stroke-width="0.25">.</text>
<text x="-63.44" y="0" font-size="37" fill="#1e2f32" stroke="#1e2f32" stroke-width="0.25">F</text>
<text x="-41.29" y="0" font-size="37" fill="#1e2f32" stroke="#1e2f32" stroke-width="0.25">e</text>
<text x="-21.18" y="0" font-size="37" fill="#1e2f32" stroke="#1e2f32" stroke-width="0.25">b</text>
</g>
<g transform="translate(785.05 891.00) rotate(-45)">
<path d="M-120.13,-19.30 L-112.83,-24.06" fill="none" stroke="#1e2f32" stroke-width="3.04" stroke-linecap="round"/>
<rect x="-114.11" y="-25.40" width="3.20" height="25.40" fill="#1e2f32"/>
<text x="-102.60" y="0" font-size="37" fill="#1e2f32" stroke="#1e2f32" stroke-width="0.25">6</text>
<text x="-82.60" y="0" font-size="37" fill="#1e2f32" stroke="#1e2f32" stroke-width="0.25">.</text>
<text x="-63.20" y="0" font-size="37" fill="#1e2f32" stroke="#1e2f32" stroke-width="0.25">F</text>
<text x="-41.18" y="0" font-size="37" fill="#1e2f32" stroke="#1e2f32" stroke-width="0.25">e</text>
<text x="-21.18" y="0" font-size="37" fill="#1e2f32" stroke="#1e2f32" stroke-width="0.25">b</text>
</g>
<g transform="translate(868.30 891.00) rotate(-45)">
<text x="-121.47" y="0" font-size="37" fill="#1e2f32" stroke="#1e2f32" stroke-width="0.25">2</text>
<text x="-101.66" y="0" font-size="37" fill="#1e2f32" stroke="#1e2f32" stroke-width="0.25">3</text>
<text x="-81.85" y="0" font-size="37" fill="#1e2f32" stroke="#1e2f32" stroke-width="0.25">.</text>
<text x="-62.82" y="0" font-size="37" fill="#1e2f32" stroke="#1e2f32" stroke-width="0.25">F</text>
<text x="-40.99" y="0" font-size="37" fill="#1e2f32" stroke="#1e2f32" stroke-width="0.25">e</text>
<text x="-21.18" y="0" font-size="37" fill="#1e2f32" stroke="#1e2f32" stroke-width="0.25">b</text>
</g>
<g transform="translate(951.55 891.00) rotate(-45)">
<text x="-130.34" y="0" font-size="37" fill="#1e2f32" stroke="#1e2f32" stroke-width="0.25">0</text>
<text x="-109.05" y="0" font-size="37" fill="#1e2f32" stroke="#1e2f32" stroke-width="0.25">2</text>
<text x="-87.75" y="0" font-size="37" fill="#1e2f32" stroke="#1e2f32" stroke-width="0.25">.</text>
<text x="-65.76" y="0" font-size="37" fill="#1e2f32" stroke="#1e2f32" stroke-width="0.25">M</text>
<text x="-34.22" y="0" font-size="37" fill="#1e2f32" stroke="#1e2f32" stroke-width="0.25">ä</text>
<text x="-12.92" y="0" font-size="37" fill="#1e2f32" stroke="#1e2f32" stroke-width="0.25">r</text>
</g>
<g transform="translate(1034.80 891.00) rotate(-45)">
<text x="-130.34" y="0" font-size="37" fill="#1e2f32" stroke="#1e2f32" stroke-width="0.25">0</text>
<text x="-109.05" y="0" font-size="37" fill="#1e2f32" stroke="#1e2f32" stroke-width="0.25">9</text>
<text x="-87.75" y="0" font-size="37" fill="#1e2f32" stroke="#1e2f32" stroke-width="0.25">.</text>
<text x="-65.76" y="0" font-size="37" fill="#1e2f32" stroke="#1e2f32" stroke-width="0.25">M</text>
<text x="-34.22" y="0" font-size="37" fill="#1e2f32" stroke="#1e2f32" stroke-width="0.25">ä</text>
<text x="-12.92" y="0" font-size="37" fill="#1e2f32" stroke="#1e2f32" stroke-width="0.25">r</text>
</g>
<g transform="translate(1118.05 891.00) rotate(-45)">
<path d="M-125.52,-19.30 L-118.22,-24.06" fill="none" stroke="#1e2f32" stroke-width="3.04" stroke-linecap="round"/>
<rect x="-119.50" y="-25.40" width="3.20" height="25.40" fill="#1e2f32"/>
<text x="-107.51" y="0" font-size="37" fill="#1e2f32" stroke="#1e2f32" stroke-width="0.25">6</text>
<text x="-86.53" y="0" font-size="37" fill="#1e2f32" stroke="#1e2f32" stroke-width="0.25">.</text>
<text x="-65.14" y="0" font-size="37" fill="#1e2f32" stroke="#1e2f32" stroke-width="0.25">M</text>
<text x="-33.91" y="0" font-size="37" fill="#1e2f32" stroke="#1e2f32" stroke-width="0.25">ä</text>
<text x="-12.92" y="0" font-size="37" fill="#1e2f32" stroke="#1e2f32" stroke-width="0.25">r</text>
</g>
<g transform="translate(1201.30 891.00) rotate(-45)">
<text x="-128.50" y="0" font-size="37" fill="#1e2f32" stroke="#1e2f32" stroke-width="0.25">2</text>
<text x="-107.51" y="0" font-size="37" fill="#1e2f32" stroke="#1e2f32" stroke-width="0.25">3</text>
<text x="-86.53" y="0" font-size="37" fill="#1e2f32" stroke="#1e2f32" stroke-width="0.25">.</text>
<text x="-65.14" y="0" font-size="37" fill="#1e2f32" stroke="#1e2f32" stroke-width="0.25">M</text>
<text x="-33.91" y="0" font-size="37" fill="#1e2f32" stroke="#1e2f32" stroke-width="0.25">ä</text>
<text x="-12.92" y="0" font-size="37" fill="#1e2f32" stroke="#1e2f32" stroke-width="0.25">r</text>
</g>
<g transform="translate(1284.55 891.00) rotate(-45)">
<text x="-121.16" y="0" font-size="37" fill="#1e2f32" stroke="#1e2f32" stroke-width="0.25">3</text>
<text x="-99.50" y="0" font-size="37" fill="#1e2f32" stroke="#1e2f32" stroke-width="0.25">0</text>
<text x="-77.84" y="0" font-size="37" fill="#1e2f32" stroke="#1e2f32" stroke-width="0.25">.</text>
<text x="-66.48" y="0" font-size="37" fill="#1e2f32" stroke="#1e2f32" stroke-width="0.25">M</text>
<text x="-34.58" y="0" font-size="37" fill="#1e2f32" stroke="#1e2f32" stroke-width="0.25">ä</text>
<text x="-12.92" y="0" font-size="37" fill="#1e2f32" stroke="#1e2f32" stroke-width="0.25">r</text>
</g>
<g transform="translate(1367.80 891.00) rotate(-45)">
<text x="-123.92" y="0" font-size="37" fill="#1e2f32" stroke="#1e2f32" stroke-width="0.25">0</text>
<text x="-102.67" y="0" font-size="37" fill="#1e2f32" stroke="#1e2f32" stroke-width="0.25">6</text>
<text x="-81.42" y="0" font-size="37" fill="#1e2f32" stroke="#1e2f32" stroke-width="0.25">.</text>
<text x="-59.52" y="0" font-size="37" fill="#1e2f32" stroke="#1e2f32" stroke-width="0.25">A</text>
<text x="-34.17" y="0" font-size="37" fill="#1e2f32" stroke="#1e2f32" stroke-width="0.25">p</text>
<text x="-12.92" y="0" font-size="37" fill="#1e2f32" stroke="#1e2f32" stroke-width="0.25">r</text>
</g>
<g transform="translate(1451.05 891.00) rotate(-45)">
<path d="M-119.12,-19.30 L-111.82,-24.06" fill="none" stroke="#1e2f32" stroke-width="3.04" stroke-linecap="round"/>
<rect x="-113.10" y="-25.40" width="3.20" height="25.40" fill="#1e2f32"/>
<text x="-101.14" y="0" font-size="37" fill="#1e2f32" stroke="#1e2f32" stroke-width="0.25">3</text>
<text x="-80.19" y="0" font-size="37" fill="#1e2f32" stroke="#1e2f32" stroke-width="0.25">.</text>
<text x="-58.91" y="0" font-size="37" fill="#1e2f32" stroke="#1e2f32" stroke-width="0.25">A</text>
<text x="-33.86" y="0" font-size="37" fill="#1e2f32" stroke="#1e2f32" stroke-width="0.25">p</text>
<text x="-12.92" y="0" font-size="37" fill="#1e2f32" stroke="#1e2f32" stroke-width="0.25">r</text>
</g>
<g transform="translate(1534.30 891.00) rotate(-45)">
<text x="-122.08" y="0" font-size="37" fill="#1e2f32" stroke="#1e2f32" stroke-width="0.25">2</text>
<text x="-101.14" y="0" font-size="37" fill="#1e2f32" stroke="#1e2f32" stroke-width="0.25">0</text>
<text x="-80.19" y="0" font-size="37" fill="#1e2f32" stroke="#1e2f32" stroke-width="0.25">.</text>
<text x="-58.91" y="0" font-size="37" fill="#1e2f32" stroke="#1e2f32" stroke-width="0.25">A</text>
<text x="-33.86" y="0" font-size="37" fill="#1e2f32" stroke="#1e2f32" stroke-width="0.25">p</text>
<text x="-12.92" y="0" font-size="37" fill="#1e2f32" stroke="#1e2f32" stroke-width="0.25">r</text>
</g>
<g transform="translate(1617.55 891.00) rotate(-45)">
<text x="-122.08" y="0" font-size="37" fill="#1e2f32" stroke="#1e2f32" stroke-width="0.25">2</text>
<text x="-101.14" y="0" font-size="37" fill="#1e2f32" stroke="#1e2f32" stroke-width="0.25">7</text>
<text x="-80.19" y="0" font-size="37" fill="#1e2f32" stroke="#1e2f32" stroke-width="0.25">.</text>
<text x="-58.91" y="0" font-size="37" fill="#1e2f32" stroke="#1e2f32" stroke-width="0.25">A</text>
<text x="-33.86" y="0" font-size="37" fill="#1e2f32" stroke="#1e2f32" stroke-width="0.25">p</text>
<text x="-12.92" y="0" font-size="37" fill="#1e2f32" stroke="#1e2f32" stroke-width="0.25">r</text>
</g>
<g transform="translate(1700.80 891.00) rotate(-45)">
<text x="-125.53" y="0" font-size="37" fill="#1e2f32" stroke="#1e2f32" stroke-width="0.25">0</text>
<text x="-104.36" y="0" font-size="37" fill="#1e2f32" stroke="#1e2f32" stroke-width="0.25">4</text>
<text x="-83.18" y="0" font-size="37" fill="#1e2f32" stroke="#1e2f32" stroke-width="0.25">.</text>
<text x="-61.42" y="0" font-size="37" fill="#1e2f32" stroke="#1e2f32" stroke-width="0.25">M</text>
<text x="-30.00" y="0" font-size="37" fill="#1e2f32" stroke="#1e2f32" stroke-width="0.25">a</text>
<text x="-8.82" y="0" font-size="37" fill="#1e2f32" stroke="#1e2f32" stroke-width="0.25">i</text>
</g>
<g transform="translate(1784.05 891.00) rotate(-45)">
<path d="M-165.47,-19.30 L-158.17,-24.06" fill="none" stroke="#1e2f32" stroke-width="3.04" stroke-linecap="round"/>
<rect x="-159.45" y="-25.40" width="3.20" height="25.40" fill="#1e2f32"/>
<path d="M-144.20,-19.30 L-136.90,-24.06" fill="none" stroke="#1e2f32" stroke-width="3.04" stroke-linecap="round"/>
<rect x="-138.18" y="-25.40" width="3.20" height="25.40" fill="#1e2f32"/>
<text x="-126.06" y="0" font-size="37" fill="#1e2f32" stroke="#1e2f32" stroke-width="0.25">.</text>
<text x="-115.10" y="0" font-size="37" fill="#1e2f32" stroke="#1e2f32" stroke-width="0.25">M</text>
<text x="-83.59" y="0" font-size="37" fill="#1e2f32" stroke="#1e2f32" stroke-width="0.25">a</text>
<text x="-62.32" y="0" font-size="37" fill="#1e2f32" stroke="#1e2f32" stroke-width="0.25">i</text>
<text x="-42.44" y="0" font-size="37" fill="#1e2f32" stroke="#1e2f32" stroke-width="0.25">2</text>
<path d="M-18.05,-19.30 L-10.75,-24.06" fill="none" stroke="#1e2f32" stroke-width="3.04" stroke-linecap="round"/>
<rect x="-12.03" y="-25.40" width="3.20" height="25.40" fill="#1e2f32"/>
</g>
<text x="76.95" y="1125.50" font-size="29.5" fill="#3b5154" stroke="#3b5154" stroke-width="0.3" textLength="200.67" lengthAdjust="spacingAndGlyphs">Kraftstoffpreise</text>
<text x="283.44" y="1125.50" font-size="29.5" fill="#3b5154" stroke="#3b5154" stroke-width="0.3" textLength="25.16" lengthAdjust="spacingAndGlyphs">in</text>
<text x="316.64" y="1125.50" font-size="29.5" fill="#3b5154" stroke="#3b5154" stroke-width="0.3" textLength="159.81" lengthAdjust="spacingAndGlyphs">Deutschland</text>
<text x="485.80" y="1125.50" font-size="29.5" fill="#3b5154" stroke="#3b5154" stroke-width="0.3" textLength="41.38" lengthAdjust="spacingAndGlyphs">der</text>
<text x="535.13" y="1125.50" font-size="29.5" fill="#3b5154" stroke="#3b5154" stroke-width="0.3" textLength="87.16" lengthAdjust="spacingAndGlyphs">beiden</text>
<text x="629.50" y="1125.50" font-size="29.5" fill="#3b5154" stroke="#3b5154" stroke-width="0.3" textLength="84.36" lengthAdjust="spacingAndGlyphs">Sorten</text>
<text x="722.25" y="1125.50" font-size="29.5" fill="#3b5154" stroke="#3b5154" stroke-width="0.3" textLength="73.61" lengthAdjust="spacingAndGlyphs">Super</text>
<text x="804.90" y="1125.50" font-size="29.5" fill="#3b5154" stroke="#3b5154" stroke-width="0.3" textLength="13.78" lengthAdjust="spacingAndGlyphs">E</text>
<path d="M822.41,1110.08 L828.21,1106.42" fill="none" stroke="#3b5154" stroke-width="2.75" stroke-linecap="round"/>
<rect x="827.05" y="1105.20" width="2.90" height="20.30" fill="#3b5154"/>
<text x="836.60" y="1125.50" font-size="29.5" fill="#3b5154" stroke="#3b5154" stroke-width="0.3" textLength="17.10" lengthAdjust="spacingAndGlyphs">0</text>
<text x="860.65" y="1125.50" font-size="29.5" fill="#3b5154" stroke="#3b5154" stroke-width="0.3" textLength="47.43" lengthAdjust="spacingAndGlyphs">und</text>
<text x="916.44" y="1125.50" font-size="29.5" fill="#3b5154" stroke="#3b5154" stroke-width="0.3" textLength="86.13" lengthAdjust="spacingAndGlyphs">Diesel.</text>
<text x="1012.23" y="1125.50" font-size="29.5" fill="#3b5154" stroke="#3b5154" stroke-width="0.3" textLength="137.98" lengthAdjust="spacingAndGlyphs">Dargestellt</text>
<text x="1159.55" y="1125.50" font-size="29.5" fill="#3b5154" stroke="#3b5154" stroke-width="0.3" textLength="29.16" lengthAdjust="spacingAndGlyphs">ist</text>
<text x="1198.70" y="1125.50" font-size="29.5" fill="#3b5154" stroke="#3b5154" stroke-width="0.3" textLength="41.17" lengthAdjust="spacingAndGlyphs">die</text>
<text x="1244.42" y="1125.50" font-size="29.5" fill="#3b5154" stroke="#3b5154" stroke-width="0.3" textLength="161.33" lengthAdjust="spacingAndGlyphs">Entwicklung</text>
<text x="1411.86" y="1125.50" font-size="29.5" fill="#3b5154" stroke="#3b5154" stroke-width="0.3" textLength="39.40" lengthAdjust="spacingAndGlyphs">der</text>
<text x="1461.55" y="1125.50" font-size="29.5" fill="#3b5154" stroke="#3b5154" stroke-width="0.3" textLength="86.32" lengthAdjust="spacingAndGlyphs">beiden</text>
<text x="1555.11" y="1125.50" font-size="29.5" fill="#3b5154" stroke="#3b5154" stroke-width="0.3" textLength="79.13" lengthAdjust="spacingAndGlyphs">Preise</text>
<text x="1642.59" y="1125.50" font-size="29.5" fill="#3b5154" stroke="#3b5154" stroke-width="0.3" textLength="30.09" lengthAdjust="spacingAndGlyphs">im</text>
<text x="80.27" y="1161.50" font-size="29.5" fill="#3b5154" stroke="#3b5154" stroke-width="0.3" textLength="230.84" lengthAdjust="spacingAndGlyphs">Wochenrhythmus.</text>
<text x="318.82" y="1161.50" font-size="29.5" fill="#3b5154" stroke="#3b5154" stroke-width="0.3" textLength="38.37" lengthAdjust="spacingAndGlyphs">Bei</text>
<text x="367.85" y="1161.50" font-size="29.5" fill="#3b5154" stroke="#3b5154" stroke-width="0.3" textLength="45.62" lengthAdjust="spacingAndGlyphs">den</text>
<text x="421.75" y="1161.50" font-size="29.5" fill="#3b5154" stroke="#3b5154" stroke-width="0.3" textLength="93.03" lengthAdjust="spacingAndGlyphs">Preisen</text>
<text x="524.67" y="1161.50" font-size="29.5" fill="#3b5154" stroke="#3b5154" stroke-width="0.3" textLength="95.94" lengthAdjust="spacingAndGlyphs">handelt</text>
<text x="632.01" y="1161.50" font-size="29.5" fill="#3b5154" stroke="#3b5154" stroke-width="0.3" textLength="24.63" lengthAdjust="spacingAndGlyphs">es</text>
<text x="666.55" y="1161.50" font-size="29.5" fill="#3b5154" stroke="#3b5154" stroke-width="0.3" textLength="48.22" lengthAdjust="spacingAndGlyphs">sich</text>
<text x="724.24" y="1161.50" font-size="29.5" fill="#3b5154" stroke="#3b5154" stroke-width="0.3" textLength="90.85" lengthAdjust="spacingAndGlyphs">jeweils</text>
<text x="823.70" y="1161.50" font-size="29.5" fill="#3b5154" stroke="#3b5154" stroke-width="0.3" textLength="40.74" lengthAdjust="spacingAndGlyphs">um</text>
<text x="875.36" y="1161.50" font-size="29.5" fill="#3b5154" stroke="#3b5154" stroke-width="0.3" textLength="324.14" lengthAdjust="spacingAndGlyphs">Tagesdurchschnittswerte.</text>
<rect x="77.5" y="1251.3" width="1764" height="2.8" fill="#a2b5b3"/>
<text x="78.66" y="1359.00" font-size="30" fill="#3b5154" stroke="#3b5154" stroke-width="0.4" textLength="89.94" lengthAdjust="spacingAndGlyphs">Quelle:</text>
<text x="176.85" y="1359.00" font-size="30" fill="#3b5154" stroke="#3b5154" stroke-width="0.4" textLength="74.17" lengthAdjust="spacingAndGlyphs">ADAC</text>
<text x="258.38" y="1359.00" font-size="30" fill="#3b5154" stroke="#3b5154" stroke-width="0.4" textLength="42.55" lengthAdjust="spacingAndGlyphs">e.V.</text>
<text x="1571.66" y="1359.00" font-size="30" fill="#3b5154" stroke="#3b5154" stroke-width="0.4" textLength="21.29" lengthAdjust="spacingAndGlyphs">©</text>
<text x="1600.75" y="1359.00" font-size="30" fill="#3b5154" stroke="#3b5154" stroke-width="0.4" textLength="73.56" lengthAdjust="spacingAndGlyphs">ADAC</text>
<text x="1682.05" y="1359.00" font-size="30" fill="#3b5154" stroke="#3b5154" stroke-width="0.4" textLength="44.12" lengthAdjust="spacingAndGlyphs">e.V.</text>
<text x="1733.75" y="1359.00" font-size="30" fill="#3b5154" stroke="#3b5154" stroke-width="0.4" textLength="90.03" lengthAdjust="spacingAndGlyphs">05.202</text>
<path d="M1826.21,1343.31 L1832.11,1339.58" fill="none" stroke="#3b5154" stroke-width="2.75" stroke-linecap="round"/>
<rect x="1830.95" y="1338.36" width="2.90" height="20.64" fill="#3b5154"/>
</svg></body></html>
